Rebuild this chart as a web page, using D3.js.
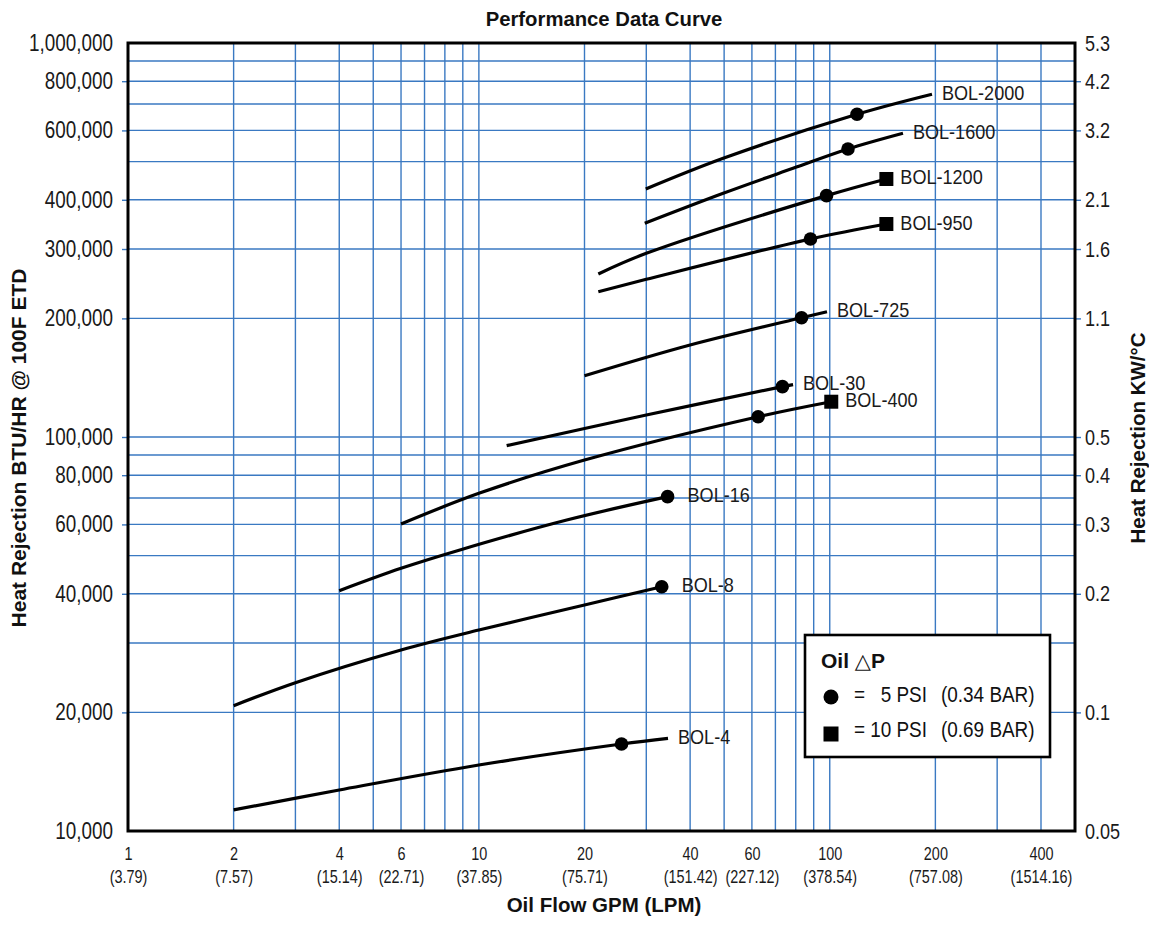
<!DOCTYPE html>
<html>
<head>
<meta charset="utf-8">
<script src="https://cdn.jsdelivr.net/npm/d3@7"></script>
<style>
  html, body { margin: 0; padding: 0; background: #fff; }
  svg { display: block; }
</style>
</head>
<body>
<svg id="chart" width="1149" height="928"></svg>
<script>
// ---------------- DATA ----------------
const xTickValues = [1, 2, 4, 6, 10, 20, 40, 60, 100, 200, 400];
const xTickLpm = ["(3.79)", "(7.57)", "(15.14)", "(22.71)", "(37.85)", "(75.71)", "(151.42)", "(227.12)", "(378.54)", "(757.08)", "(1514.16)"];
const xGridValues = [2, 3, 4, 5, 6, 7, 8, 9, 10, 20, 30, 40, 50, 60, 70, 80, 90, 100, 200, 300, 400];

const yTickValues = [10000, 20000, 40000, 60000, 80000, 100000, 200000, 300000, 400000, 600000, 800000, 1000000];
const kwLabels = ["0.05", "0.1", "0.2", "0.3", "0.4", "0.5", "1.1", "1.6", "2.1", "3.2", "4.2", "5.3"];
const yGridValues = [20000, 30000, 40000, 50000, 60000, 70000, 80000, 90000, 100000,
                     200000, 300000, 400000, 500000, 600000, 700000, 800000, 900000];

// curves: [GPM, BTU/HR]
const bol4    = [[2, 11310], [4, 12710], [10, 14710], [25.5, 16630], [34.6, 17190]];
const bol8    = [[2, 20800], [3, 23790], [6, 28800], [10, 32370], [20, 37470], [33.2, 41690]];
const bol16   = [[4, 40730], [6, 46420], [8.83, 51670], [17.8, 61550], [34.5, 70560]];
const bol400  = [[6, 60150], [10, 71950], [20, 87400], [62.5, 112600], [101, 122900]];
const bol30   = [[12, 95100], [30, 113700], [73.3, 134200], [78.6, 135800]];
const bol725  = [[20, 143000], [40, 171200], [83.1, 200800], [98.2, 208000]];
const bol950  = [[21.9, 233800], [30, 251300], [88.1, 318100], [145, 347200]];
const bol1200 = [[21.9, 259300], [30, 292500], [97.9, 409800], [145, 451700]];
const bol1600 = [[29.7, 348700], [49.7, 415500], [78.6, 480800], [112.7, 538300], [161.7, 590000]];
const bol2000 = [[29.9, 426000], [49.7, 509800], [119.6, 659200], [195.6, 741000]];

// markers: circle = 5 PSI, square = 10 PSI
const circleMarkers = [[25.5, 16630], [33.2, 41690], [34.5, 70560], [62.5, 112600], [73.3, 134200],
                       [83.1, 200800], [88.1, 318100], [97.9, 409800], [112.7, 538300], [119.6, 659200]];
const squareMarkers = [[101, 122900], [145, 347200], [145, 451700]];

const seriesNames = ["BOL-4", "BOL-8", "BOL-16", "BOL-400", "BOL-30", "BOL-725", "BOL-950", "BOL-1200", "BOL-1600", "BOL-2000"];
const seriesData  = [bol4, bol8, bol16, bol400, bol30, bol725, bol950, bol1200, bol1600, bol2000];
const seriesEnd   = ["line", "circle", "circle", "square", "line", "line", "square", "square", "line", "line"];

// ---------------- LAYOUT ----------------
const L = 128, R = 1075, T = 43, B = 831;
const GRID = "#3a79c2";
const FONT = "'Liberation Sans', Arial, sans-serif";
const BOLD = "'Liberation Sans', Arial, sans-serif";

// condensed look: compress text horizontally
function squeeze(sel, k) {
  sel.each(function () {
    const len = this.getComputedTextLength();
    d3.select(this).attr("textLength", len * k).attr("lengthAdjust", "spacingAndGlyphs");
  });
}

const svg = d3.select("#chart");
const x = d3.scaleLog().domain([1, 500]).range([L, R]);
const y = d3.scaleLog().domain([10000, 1000000]).range([B, T]);

// grid
const grid = svg.append("g");
grid.selectAll("line.v").data(xGridValues).join("line")
  .attr("x1", d => x(d)).attr("x2", d => x(d)).attr("y1", T).attr("y2", B)
  .attr("stroke", GRID).attr("stroke-width", 1.4);
grid.selectAll("line.h").data(yGridValues).join("line")
  .attr("x1", L).attr("x2", R).attr("y1", d => y(d)).attr("y2", d => y(d))
  .attr("stroke", GRID).attr("stroke-width", 1.4);

// left axis
const leftAxis = svg.append("g").attr("transform", `translate(${L},0)`)
  .call(d3.axisLeft(y).tickValues(yTickValues).tickFormat(d3.format(",")).tickSize(6).tickPadding(9));
leftAxis.select(".domain").remove();
leftAxis.selectAll("line").attr("stroke", GRID).attr("stroke-width", 1.4)
  .attr("opacity", d => (d === 10000 || d === 1000000) ? 0 : 1);
leftAxis.selectAll("text").attr("font-family", FONT).attr("font-size", 23).attr("fill", "#1a1a1a")
  .call(squeeze, 0.82);

// right axis
const rightAxis = svg.append("g").attr("transform", `translate(${R},0)`)
  .call(d3.axisRight(y).tickValues(yTickValues).tickFormat((d, i) => kwLabels[i]).tickSize(6).tickPadding(4));
rightAxis.select(".domain").remove();
rightAxis.selectAll("line").attr("stroke", GRID).attr("stroke-width", 1.4)
  .attr("opacity", d => (d === 10000 || d === 1000000) ? 0 : 1);
rightAxis.selectAll("text").attr("font-family", FONT).attr("font-size", 22).attr("fill", "#1a1a1a")
  .call(squeeze, 0.82);

// bottom axis (two-line labels)
const bottomAxis = svg.append("g").attr("transform", `translate(0,${B})`)
  .call(d3.axisBottom(x).tickValues(xTickValues).tickFormat(d => d).tickSize(0).tickPadding(0));
bottomAxis.select(".domain").remove();
bottomAxis.selectAll(".tick text").attr("y", 29).attr("dy", null)
  .attr("font-family", FONT).attr("font-size", 19).attr("fill", "#1a1a1a");
bottomAxis.selectAll(".tick").append("text")
  .attr("y", 52).attr("fill", "#1a1a1a").attr("font-family", FONT).attr("font-size", 19)
  .text((d, i) => xTickLpm[i]);
bottomAxis.selectAll(".tick text").call(squeeze, 0.76);

// plot border
svg.append("rect").attr("x", L).attr("y", T).attr("width", R - L).attr("height", B - T)
  .attr("fill", "none").attr("stroke", "#000").attr("stroke-width", 3);

// curves
const line = d3.line().x(d => x(d[0])).y(d => y(d[1])).curve(d3.curveCatmullRom.alpha(0.5));
svg.append("g").selectAll("path").data(seriesData).join("path")
  .attr("d", line).attr("fill", "none").attr("stroke", "#000").attr("stroke-width", 3.2)
  .attr("stroke-linecap", "butt");

// markers
svg.append("g").selectAll("circle").data(circleMarkers).join("circle")
  .attr("cx", d => x(d[0])).attr("cy", d => y(d[1])).attr("r", 6.8).attr("fill", "#000");
svg.append("g").selectAll("rect").data(squareMarkers).join("rect")
  .attr("x", d => x(d[0]) - 7).attr("y", d => y(d[1]) - 7).attr("width", 14).attr("height", 14).attr("fill", "#000");

// curve labels
const gapFor = { line: 10, circle: 20, square: 14 };
svg.append("g").selectAll("text").data(seriesData).join("text")
  .attr("x", (d, i) => x(d[d.length - 1][0]) + gapFor[seriesEnd[i]])
  .attr("y", d => y(d[d.length - 1][1]) - 2)
  .attr("dominant-baseline", "central")
  .attr("font-family", FONT).attr("font-size", 21).attr("fill", "#1a1a1a")
  .text((d, i) => seriesNames[i])
  .call(squeeze, 0.86);

// titles
svg.append("text").attr("x", 604).attr("y", 26).attr("text-anchor", "middle")
  .attr("font-family", BOLD).attr("font-weight", "bold").attr("font-size", 20.3).attr("fill", "#111")
  .text("Performance Data Curve");
svg.append("text").attr("x", 604).attr("y", 912).attr("text-anchor", "middle")
  .attr("font-family", BOLD).attr("font-weight", "bold").attr("font-size", 20.5).attr("fill", "#111")
  .text("Oil Flow GPM (LPM)");
svg.append("text").attr("transform", "translate(26,448) rotate(-90)").attr("text-anchor", "middle")
  .attr("font-family", BOLD).attr("font-weight", "bold").attr("font-size", 21).attr("fill", "#111")
  .text("Heat Rejection BTU/HR @ 100F ETD");
svg.append("text").attr("transform", "translate(1145,438) rotate(-90)").attr("text-anchor", "middle")
  .attr("font-family", BOLD).attr("font-weight", "bold").attr("font-size", 20.5).attr("fill", "#111")
  .text("Heat Rejection KW/°C");

// legend
const lg = svg.append("g");
lg.append("rect").attr("x", 805).attr("y", 635).attr("width", 245).attr("height", 122)
  .attr("fill", "#fff").attr("stroke", "#000").attr("stroke-width", 2.6);
const lt = lg.append("text").attr("x", 821).attr("y", 668).attr("font-size", 21).attr("fill", "#111");
lt.append("tspan").attr("font-family", BOLD).attr("font-weight", "bold").text("Oil ");
lt.append("tspan").attr("font-family", "'DejaVu Sans', sans-serif").attr("font-weight", "normal").attr("font-size", 21).text("△");
lt.append("tspan").attr("font-family", BOLD).attr("font-weight", "bold").text("P");
lg.append("circle").attr("cx", 831).attr("cy", 697).attr("r", 7.5).attr("fill", "#000");
lg.append("rect").attr("x", 823.5).attr("y", 726.5).attr("width", 15).attr("height", 15).attr("fill", "#000");
const rows = [[702, "=", "5 PSI", "(0.34 BAR)"], [737, "=", "10 PSI", "(0.69 BAR)"]];
rows.forEach(r => {
  lg.append("text").attr("x", 854).attr("y", r[0]).attr("font-family", FONT).attr("font-size", 22).attr("fill", "#111").text(r[1]).call(squeeze, 0.86);
  lg.append("text").attr("x", 927).attr("y", r[0]).attr("text-anchor", "end").attr("font-family", FONT).attr("font-size", 22).attr("fill", "#111").text(r[2]).call(squeeze, 0.86);
  lg.append("text").attr("x", 941).attr("y", r[0]).attr("font-family", FONT).attr("font-size", 22).attr("fill", "#111").text(r[3]).call(squeeze, 0.86);
});
</script>
</body>
</html>
